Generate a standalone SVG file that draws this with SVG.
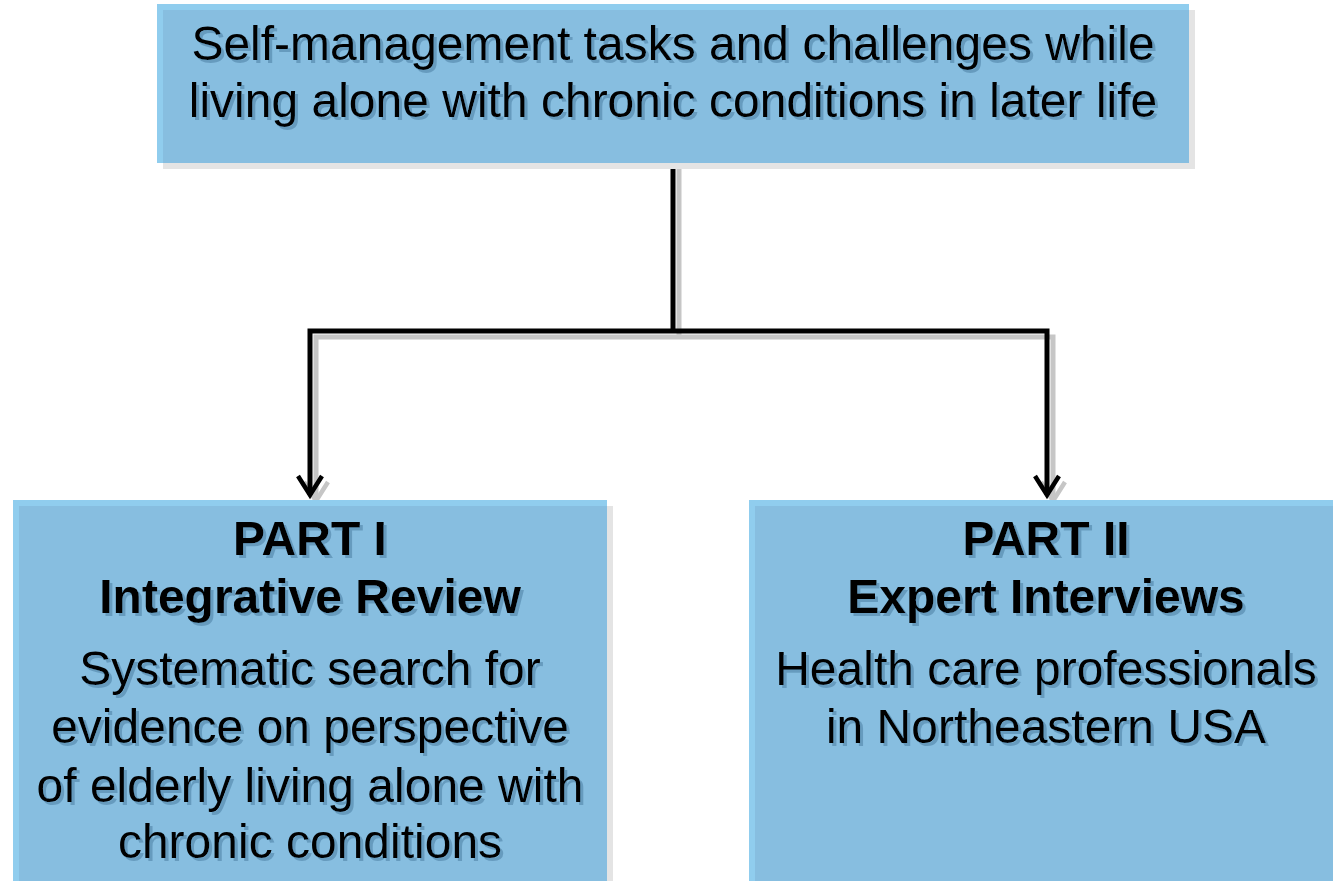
<svg xmlns="http://www.w3.org/2000/svg" width="1333" height="881" viewBox="0 0 1333 881">
  <defs>
    <style>
      .shadow { fill: #e4e4e4; }
      .edge { fill: #90cdee; }
      .face { fill: #87bee0; }
      .txt { font-family: "Liberation Sans", Arial, sans-serif; font-size: 48px; fill: #000000; text-anchor: middle; }
      .b { font-weight: bold; }
      .wire { fill: none; stroke: #000000; stroke-width: 5; stroke-linejoin: miter; }
      .wire-sh { fill: none; stroke: #c6c6c6; stroke-width: 5; stroke-linejoin: miter; }
    </style>
    <filter id="tshadow" x="-5%" y="-20%" width="110%" height="140%">
      <feOffset in="SourceAlpha" dx="3" dy="3" result="off"/>
      <feFlood flood-color="#5b8fb3" flood-opacity="0.75"/>
      <feComposite in2="off" operator="in" result="sh"/>
      <feMerge>
        <feMergeNode in="sh"/>
        <feMergeNode in="SourceGraphic"/>
      </feMerge>
    </filter>
    <marker id="arr" markerUnits="userSpaceOnUse" orient="auto" refX="0" refY="0" markerWidth="40" markerHeight="40" overflow="visible">
      <path d="M-19,-12 L0,0 L-19,12" fill="none" stroke="#000000" stroke-width="4.5"/>
    </marker>
    <marker id="arr-sh" markerUnits="userSpaceOnUse" orient="auto" refX="0" refY="0" markerWidth="40" markerHeight="40" overflow="visible">
      <path d="M-19,-12 L0,0 L-19,12" fill="none" stroke="#c6c6c6" stroke-width="4.5"/>
    </marker>
  </defs>

  <rect x="0" y="0" width="1333" height="881" fill="#ffffff"/>

  <g id="connectors">
    <g transform="translate(6,6)">
      <path class="wire-sh" d="M673,163 V331"/>
      <path class="wire-sh" d="M673,331 H310 V495" marker-end="url(#arr-sh)"/>
      <path class="wire-sh" d="M673,331 H1047 V495" marker-end="url(#arr-sh)"/>
    </g>
    <path class="wire" d="M673,163 V331"/>
    <path class="wire" d="M673,331 H310 V495" marker-end="url(#arr)"/>
    <path class="wire" d="M673,331 H1047 V495" marker-end="url(#arr)"/>
  </g>

  <g id="node-top">
    <rect class="shadow" x="163" y="10" width="1032" height="159"/>
    <rect class="edge" x="157" y="4" width="1032" height="159"/>
    <rect class="face" x="163" y="10" width="1026" height="153"/>
    <g filter="url(#tshadow)">
      <text class="txt" x="673" y="60">Self-management tasks and challenges while</text>
      <text class="txt" x="673" y="117">living alone with chronic conditions in later life</text>
    </g>
  </g>

  <g id="node-part1">
    <rect class="shadow" x="19" y="506" width="594" height="380"/>
    <rect class="edge" x="13" y="500" width="594" height="385"/>
    <rect class="face" x="19" y="506" width="588" height="380"/>
    <g filter="url(#tshadow)">
      <text class="txt b" x="310" y="555">PART I</text>
      <text class="txt b" x="310" y="613">Integrative Review</text>
      <text class="txt" x="310" y="685">Systematic search for</text>
      <text class="txt" x="310" y="743">evidence on perspective</text>
      <text class="txt" x="310" y="802">of elderly living alone with</text>
      <text class="txt" x="310" y="858">chronic conditions</text>
    </g>
  </g>

  <g id="node-part2">
    <rect class="shadow" x="755" y="506" width="594" height="380"/>
    <rect class="edge" x="749" y="500" width="594" height="385"/>
    <rect class="face" x="755" y="506" width="588" height="380"/>
    <g filter="url(#tshadow)">
      <text class="txt b" x="1046" y="555">PART II</text>
      <text class="txt b" x="1046" y="613">Expert Interviews</text>
      <text class="txt" x="1046" y="685">Health care professionals</text>
      <text class="txt" x="1046" y="743">in Northeastern USA</text>
    </g>
  </g>
</svg>
